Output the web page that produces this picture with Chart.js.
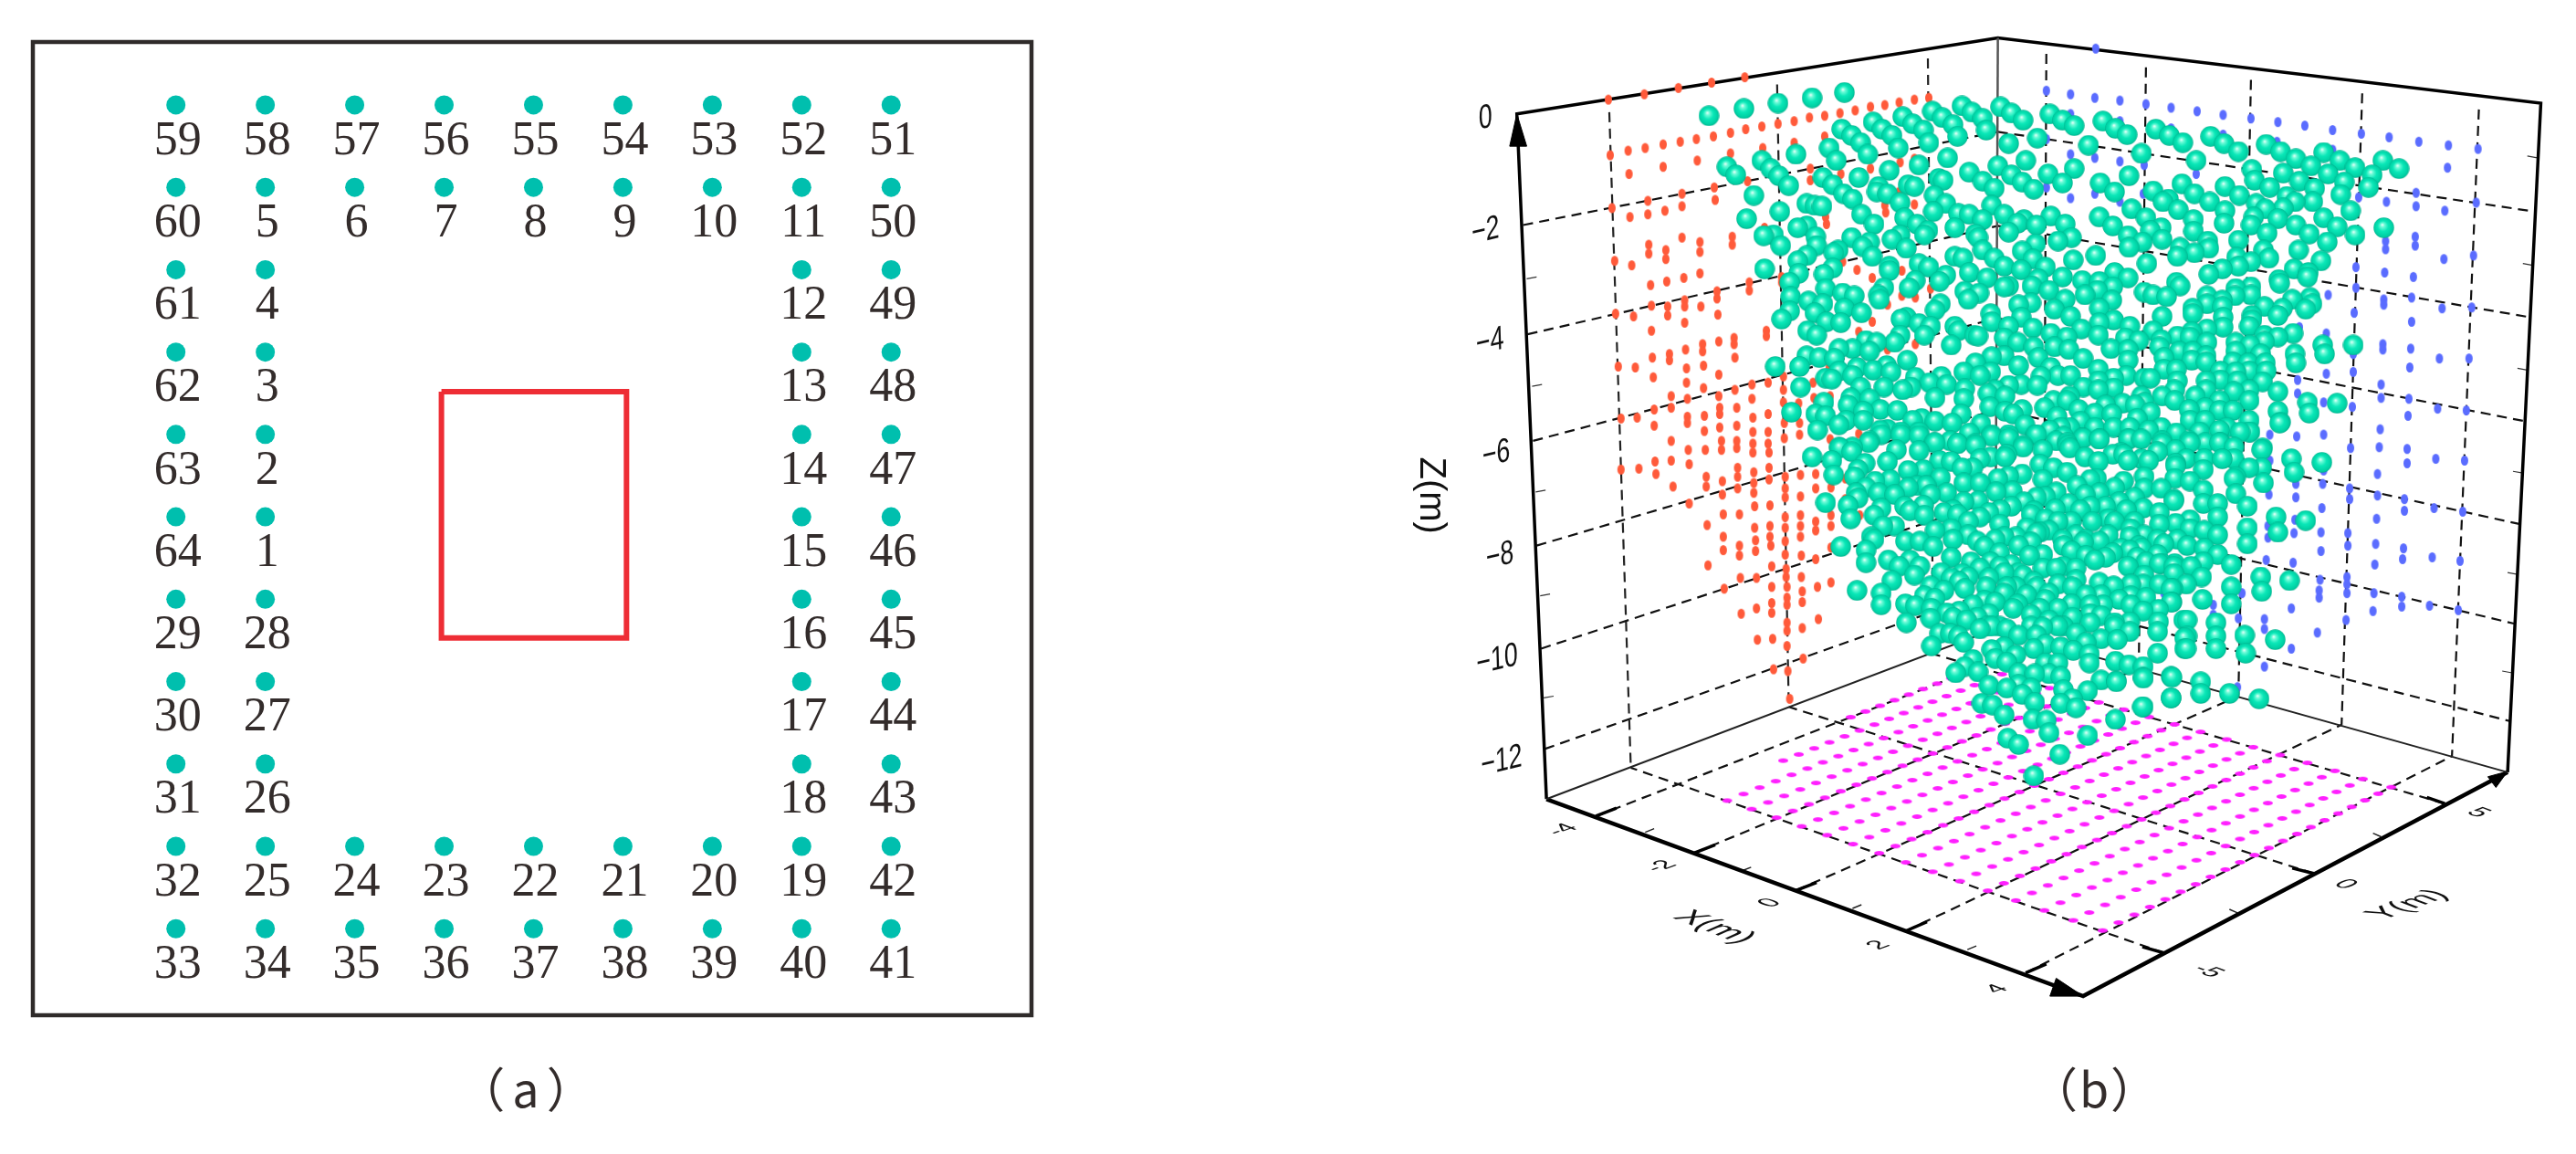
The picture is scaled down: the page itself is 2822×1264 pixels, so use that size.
<!DOCTYPE html>
<html>
<head>
<meta charset="utf-8">
<title>Sensor layout and 3D event cloud</title>
<script src="https://cdn.jsdelivr.net/npm/chart.js@4"></script>
<style>
  html, body { margin: 0; background: #fff; }
  canvas { position: absolute; top: 0; }
  #layoutChart { left: 0; }
  #cloudChart { left: 1400px; }
</style>
</head>
<body>
<canvas id="layoutChart" width="1400" height="1264"></canvas>
<canvas id="cloudChart" width="1422" height="1264"></canvas>
<script>
// panel (a): sensor numbers per row, 0 = no sensor in that column
const sensorRows = [
  [59, 58, 57, 56, 55, 54, 53, 52, 51],
  [60, 5, 6, 7, 8, 9, 10, 11, 50],
  [61, 4, 0, 0, 0, 0, 0, 12, 49],
  [62, 3, 0, 0, 0, 0, 0, 13, 48],
  [63, 2, 0, 0, 0, 0, 0, 14, 47],
  [64, 1, 0, 0, 0, 0, 0, 15, 46],
  [29, 28, 0, 0, 0, 0, 0, 16, 45],
  [30, 27, 0, 0, 0, 0, 0, 17, 44],
  [31, 26, 0, 0, 0, 0, 0, 18, 43],
  [32, 25, 24, 23, 22, 21, 20, 19, 42],
  [33, 34, 35, 36, 37, 38, 39, 40, 41],
]
const tunnelColumns = [3.97, 6.04]
const tunnelRows = [4.48, 7.47]

// panel (b): everything below is in the plane of the 3D view (view units)
const boxCorners = { A: [1654, 115], B: [2190, 30], C: [2795, 103], D: [1687, 880], E: [2285, 1100], F: [2758, 850], G: [2187, 690] }
const zLabels = ["0", "-2", "-4", "-6", "-8", "-10", "-12"]
const zLeftEdge = [[1661, 239], [1666, 361], [1672, 480], [1676, 597], [1681, 712], [1685, 824]]
const zBackEdge = [[2190, 135], [2190, 240], [2189, 343], [2189, 445], [2188, 546], [2188, 646]]
const zRightEdge = [[2788, 224], [2783, 342], [2777, 458], [2772, 573], [2765, 684], [2761, 793]]
const zLabelAt = [[1619, 120], [1619, 246], [1624, 370], [1631, 495], [1635, 609], [1632, 725], [1637, 838]]
const zMinorLeft = [[1665, 299], [1671, 419], [1675, 537], [1680, 653], [1684, 767]]
const zMinorRight = [[2791, 164], [2786, 284], [2780, 401], [2775, 516], [2769, 629], [2763, 739]]
const yWallTop = [[1757, 113], [1944, 82], [2112, 53]]
const yWallBottom = [[1781, 845], [1957, 777], [2118, 718]]
const xWallTop = [[2244, 48], [2355, 63], [2472, 77], [2596, 92], [2726, 110]]
const xWallBottom = [[2241, 705], [2347, 734], [2458, 765], [2573, 797], [2696, 832]]
const xLabels = ["-4", "-2", "0", "2", "4"]
const xAxisTicks = [[1742, 899], [1852, 940], [1965, 982], [2088, 1027], [2221, 1074]]
const xTickEnds = [[1765, 890], [1875, 931], [1988, 973], [2111, 1017], [2244, 1064]]
const xLabelAt = [[1705, 914], [1815, 955], [1936, 996], [2057, 1043], [2189, 1092]]
const xMinorTicks = [[1797, 917], [1905, 960], [2028, 1002], [2156, 1048]]
const yLabels = ["-5", "0", "5"]
const yAxisTicks = [[2376, 1052], [2542, 963], [2688, 885]]
const yTickEnds = [[2351, 1045], [2518, 957], [2668, 878]]
const yFloorEnds = [[1781, 845], [1957, 777], [2118, 718]]
const yLabelAt = [[2424, 1072], [2577, 975], [2725, 895]]
const yMinorTicks = [[2457, 1007], [2617, 922]]
const floorCorners = [[1943.3, 900.7], [2306.7, 1026.7], [2628.3, 866.7], [2275, 764]]

// floor projection of the events, X and Y in metres
const floorX = [-4, -3.5, -3, -2.5, -2, -1.5, -1, -0.5, 0, 0.5, 1, 1.5, 2, 2.5, 3, 3.5, 4]
const floorFirstY = [0.5, -2.5, -5, -5, -5, -5, -5, -5, -5, -5, -5, -5, -5, -5, -5, -5, -5]
const floorY = [-5, -4.5, -4, -3.5, -3, -2.5, -2, -1.5, -1, -0.5, 0, 0.5, 1, 1.5, 2, 2.5, 3, 3.5, 4, 4.5, 5]

const redPoints = [
  [1756,99],[1796,93],[1834,86],[1871,80],[1908,74],
  [1758,161],[1778,156],[1797,153],[1817,149],[1836,146],[1854,143],[1873,140],[1892,136],[1909,132],[1927,129],[1945,126],[1963,123],[1980,119],[1997,117],[2014,114],[2031,111],[2048,107],[2064,105],[2080,102],[2097,99],[2113,97],
  [1779,182],[1817,174],[1855,167],[1892,159],[1928,153],[1963,147],[1997,140],
  [2097,165],[2081,169],[2048,176],[2015,182],[1981,176],[1981,189],[1911,190],[1874,197],[1875,211],[1998,230],[1999,238],[2097,216],[2080,202],[2064,217],[2065,225],[1894,252],[1894,261],[1930,242],
  [2033,289],[2050,298],[2017,280],[2083,318],[2098,320],[2067,328],[2083,290],[2050,347],[2035,358],[2067,378],[2098,372],[2115,310],[1932,357],
  [1760,220],[1780,230],[1800,212],[1800,227],[1819,223],[1838,204],[1838,218],
  [1838,253],[1801,261],[1801,271],[1820,267],[1820,277],[1858,258],[1858,269],
  [1763,279],[1782,284],[1803,306],[1821,302],[1840,298],[1858,293],[1877,313],[1877,321],[1913,303],[1913,312],[1949,297],[1949,303],
  [1764,338],[1784,341],[1804,329],[1822,330],[1822,340],[1841,323],[1841,330],[1859,330],[1878,339],[1841,348],[1804,357],
  [1932,363],[1896,365],[1896,372],[1879,369],[1861,372],[1861,380],[1842,378],[1824,383],[1824,390],[1805,387],[1897,387],[1862,396],[1843,399],
  [1767,397],[1786,398],[1806,409],[1843,415],[1879,406],[1862,421],[1844,433],[1826,430],[1879,430],[1897,423],[1916,417],[1916,433],[1934,415],[1951,408],[1951,423],[1951,437],[1967,400],[1984,415],[2002,398],
  [1770,455],[1788,454],[1807,445],[1826,443],[1807,463],[1844,453],[1844,460],[1863,452],[1863,469],[1880,443],[1880,450],[1899,443],[1899,463],[1880,465],[1917,454],[1917,470],[1934,450],[1934,470],[1952,460],[1952,477],[1969,460],[1969,473],
  [1968,438],[1985,432],[2003,430],[2003,478],[2035,472],
  [1826,480],[1882,480],[1899,480],[1917,483],[1934,483],[1845,490],[1864,490],[1882,490],[1899,488],[1917,493],[1935,493],
  [1770,512],[1790,511],[1809,517],[1808,503],[1828,531],[1826,502],[1846,506],[1865,520],[1865,531],[1846,550],[1883,525],[1883,540],[1900,510],[1900,520],[1900,533],[1918,515],[1918,527],[1918,538],[1935,510],[1935,523],[1953,520],[1953,533],[1953,543],[1970,518],[1970,542],[1987,517],[1987,533],[2004,532],[2020,522],
  [1884,562],[1902,562],[1919,553],[1936,552],[1953,565],[1970,563],[1970,575],[1987,570],[2004,563],[2004,575],[2020,545],[2036,563],[1866,574],[1919,577],[1936,575],[1936,587],[1953,577],[1953,592],[1970,587],[1987,580],[1884,587],[1920,591],[1937,597],[1902,597],[1884,602],[1920,603],[1902,608],[1953,607],[1971,608],[1987,612],[2004,599],
  [1867,619],[1938,620],[1954,623],[1954,632],[1971,632],[1903,633],[1921,633],[1885,645],[1938,643],[1955,643],[1955,655],[1972,648],[1989,643],[2004,638],[1904,673],[1921,667],[1938,661],[1938,672],[1955,663],[1972,660],[1990,679],[1955,683],[1955,692],[1972,689],[1922,702],[1939,701],[1955,709],[1973,723],[1940,735],[1956,737],[1958,768],
]

const bluePoints = [
  [2299,42],
  [2244,89],[2271,93],[2298,97],[2326,100],[2355,104],[2383,108],[2412,112],[2441,116],[2472,120],[2502,124],[2532,128],[2563,133],[2595,137],[2626,141],[2659,146],[2692,150],[2725,154],
  [2271,115],[2326,123],[2383,131],[2441,138],[2501,146],[2563,155],[2691,175],
  [2244,143],[2271,160],[2298,164],[2326,168],[2353,172],[2411,182],[2656,203],[2623,213],[2656,218],[2723,214],[2688,223],[2244,197],[2271,209],[2298,204],[2326,213],[2352,204],[2592,208],
  [2622,257],[2622,266],[2655,252],[2655,262],[2687,277],[2720,273],[2621,292],[2653,297],[2589,286],[2620,322],[2620,328],[2651,320],[2685,332],[2718,331],[2589,309],[2558,317],[2651,347],[2587,337],[2556,360],[2526,353],
  [2619,372],[2619,378],[2650,377],[2682,388],[2715,388],[2586,383],[2649,398],[2556,405],[2524,412],[2617,417],[2586,403],[2524,427],[2553,437],[2617,432],[2648,433],[2680,444],[2712,446],[2585,442],[2647,452],[2616,467],[2493,473],[2523,475],[2553,473],
  [2583,488],[2615,487],[2646,489],[2646,505],[2678,500],[2710,502],[2493,502],[2553,513],[2613,517],[2552,528],[2582,533],[2582,545],[2522,528],[2522,543],[2492,540],[2613,541],[2643,545],[2643,558],[2676,555],[2708,559],[2551,555],[2612,567],[2491,575],[2521,568],[2520,583],[2550,582],[2580,583],[2580,597],[2611,595],[2642,600],[2641,612],[2674,610],[2705,614],[2491,588],[2550,603],[2610,618],[2489,613],[2519,616],
  [2549,635],[2579,632],[2579,640],[2579,650],[2609,650],[2640,654],[2640,665],[2671,664],[2703,669],[2548,647],[2548,655],[2517,667],[2608,670],[2487,679],[2487,690],[2578,680],[2546,694],[2458,678],[2430,663],[2430,674],[2517,712],[2487,732],[2457,755],[2404,637],[2375,650],[2462,650],
]

const greenPoints = [
  [1868,117],[1907,109],[1945,103],[1983,97],[2019,91],
  [2193,107],[2205,114],[2218,122],[2150,106],[2161,113],[2173,120],[2177,133],[2117,112],[2128,119],[2140,127],[2145,140],[2084,118],[2095,126],[2107,133],[2113,147],[2051,124],[2061,132],[2072,139],[2079,153],[2016,132],[2027,139],[2037,147],[2045,160],[2002,153],[2010,167],[1965,160],
  [1888,174],[1898,183],[1927,167],[1937,176],[1946,184],[1957,195],[1918,206],[1947,224],[1910,232],[1929,251],[1940,250],[1948,262],[1967,242],[1977,240],[1987,252],[1988,262],[1977,215],[1986,217],[1994,218],[1995,186],[2006,194],[2018,204],[2028,210],[2035,186],[2069,178],[2102,172],[2134,164],[2202,148],[2234,142],[2248,115],[2262,122],[2275,128],[2221,167],[2190,173],[2158,180],[2173,190],[2186,198],[2205,183],[2217,191],[2230,199],[2246,182],[2262,192],[2275,176],
  [2057,196],[2055,202],[2067,204],[2081,214],[2090,194],[2097,196],[2124,187],[2129,189],[2119,206],[2132,215],[2118,224],[2146,226],[2158,227],[2142,242],[2173,233],[2183,217],[2197,227],[2212,237],[2219,233],[2233,239],[2249,229],[2265,238],[2202,247],[2165,249],[2168,253],[2173,267],[2186,276],[2197,285],[2086,231],[2100,238],[2112,245],[2108,250],[2038,227],[2052,238],[2027,253],[2047,258],[2039,263],[2050,274],[2072,255],[2081,250],[2088,265],[2007,270],[2012,267],[1977,273],[1967,279],[2006,287],[1968,293],[1996,294],[1958,303],[1930,288],[1998,310],[1959,319],[2017,315],[2030,318],[1979,324],[1995,327],[1958,335],[1986,337],[1949,344],[2019,332],[2038,337],[1999,347],[2015,348],[1978,357],[1988,362],
  [2069,285],[2069,290],[2063,309],[2058,322],[2057,317],[2102,282],[2113,286],[2098,301],[2091,309],[2126,327],[2120,334],[2132,295],[2125,302],[2142,274],[2151,276],[2158,292],[2178,298],[2153,313],[2169,315],[2157,322],[2197,308],[2202,307],[2216,289],[2217,268],[2232,260],[2229,277],[2243,286],[2235,299],[2257,257],[2228,307],[2247,312],[2262,297],[2265,322],[2253,333],[2213,328],[2227,326],[2271,341],[2274,278],[2272,253],
  [2182,338],[2183,347],[2202,352],[2216,342],[2229,354],[2249,360],[2267,364],[2142,352],[2146,357],[2164,362],[2168,363],[2138,373],[2082,344],[2088,342],[2102,349],[2115,352],[2108,362],[2081,362],[2075,370],[2197,365],[2212,370],[2230,375],[2235,387],[2253,375],[2269,378],[2028,377],[2047,380],[2055,370],[2043,368],[2013,377],[2008,388],[1991,387],[1977,385],[1969,397],[1942,397],[2013,402],[2033,398],[2028,407],[2051,401],[2066,396],[2071,403],[2089,390],[1998,410],[2005,411],[2183,386],[2197,385],[2213,396],[2165,393],[2152,403],[2170,407],[2182,403],[2249,398],[2257,407],[2271,407],
  [2098,409],[2114,415],[2127,408],[2133,417],[2153,422],[2152,433],[2120,432],[2084,423],[2093,420],[2063,420],[2037,420],[2026,432],[2047,433],[1970,420],[1996,437],[1960,448],[1987,450],[1998,452],[1989,468],[2023,440],[2059,445],[2040,447],[2078,446],[2021,457],[2013,462],[2040,457],[2095,457],[2105,455],[2120,458],[2139,460],[2149,450],[2171,461],[2158,471],[2179,427],[2198,430],[2187,423],[2202,418],[2216,417],[2234,418],[2238,408],[2181,442],[2198,447],[2207,450],[2217,445],[2220,462],[2242,443],[2252,435],[2267,435],[2256,453],[2248,468],[2270,465],[2202,473],[2183,473],[2232,473],[2059,468],[2047,480],[2082,470],[2102,470],[2119,482],[2145,483],[2165,483],[2218,485],[2267,482],[2067,467],[2028,487],[2013,487],[2137,480],
  [2307,123],[2321,131],[2334,138],[2366,132],[2381,139],[2396,147],[2427,140],[2442,148],[2458,157],[2489,149],[2505,157],[2522,165],[2553,158],[2571,167],[2588,175],[2619,167],[2637,176],[2291,150],[2350,159],[2411,167],[2473,177],[2476,189],[2508,181],[2539,173],[2558,182],[2576,191],[2607,183],[2603,197],[2572,205],[2526,190],[2543,198],[2493,197],[2541,213],[2512,207],[2521,213],[2508,220],[2502,232],
  [2336,184],[2304,192],[2320,202],[2363,201],[2395,193],[2409,204],[2443,196],[2459,206],[2426,213],[2478,215],[2488,221],[2475,230],[2472,239],[2380,210],[2374,213],[2391,222],[2339,221],[2355,231],[2443,223],[2442,237],[2408,233],[2408,246],[2303,230],[2318,240],[2335,251],[2336,264],[2351,258],[2372,242],[2373,255],[2360,245],
  [2522,239],[2553,231],[2568,241],[2583,223],[2537,249],[2490,248],[2458,256],[2620,242],[2588,250],[2557,258],[2525,267],[2486,267],[2492,276],[2550,279],[2520,288],[2536,292],[2535,297],[2503,300],[2504,304],[2456,275],[2458,285],[2472,280],[2440,288],[2425,294],[2393,264],[2390,274],[2409,270],[2424,257],[2425,265],[2356,282],[2299,273],[2320,292],[2335,298],[2284,301],[2303,302],[2318,308],[2301,312],[2287,317],[2317,323],[2303,332],[2353,314],[2363,317],[2378,319],[2389,303],[2393,307],[2373,341],[2319,345],[2337,352],[2303,348],[2283,355],[2302,362],[2285,388],[2316,377],[2332,365],[2347,368],[2335,378],[2335,390],[2363,357],[2372,367],[2370,375],[2390,363],[2392,380],
  [2407,332],[2407,338],[2423,318],[2423,327],[2440,323],[2440,330],[2455,310],[2454,318],[2472,308],[2472,317],[2487,330],[2507,332],[2502,340],[2518,322],[2538,320],[2540,327],[2533,333],[2473,340],[2473,345],[2470,352],[2441,342],[2441,353],[2423,355],[2406,358],[2404,364],[2423,370],[2487,362],[2487,369],[2502,364],[2519,360],[2471,373],[2455,370],[2455,380],[2483,383],[2407,380],[2406,390],[2422,385],[2422,392],[2375,387],[2375,400],[2389,400],[2452,392],[2469,393],[2470,402],[2488,393],[2489,402],[2521,383],[2522,393],[2552,373],[2554,383],[2586,373],
  [2455,403],[2457,413],[2438,402],[2438,412],[2422,413],[2422,423],[2485,414],[2470,423],[2470,435],[2502,425],[2453,425],[2390,413],[2387,423],[2387,435],[2373,430],[2353,410],[2360,410],[2333,407],[2302,400],[2319,410],[2319,421],[2302,413],[2302,423],[2285,420],[2329,438],[2353,437],[2360,448],[2343,440],[2317,450],[2298,449],[2282,458],[2298,465],[2319,465],[2337,465],[2284,477],[2303,478],[2335,478],[2358,468],[2372,465],[2389,471],[2403,445],[2404,457],[2421,443],[2421,457],[2437,435],[2437,446],[2452,446],[2437,468],[2470,457],[2471,470],[2502,447],[2505,459],[2535,437],[2537,449],[2568,438],[2403,480],[2421,482],[2438,482],[2373,480],[2485,488],[2453,487],[2268,485],
  [1983,498],[2005,502],[2014,488],[2027,492],[2046,482],[2042,505],[2007,518],[2034,512],[2077,490],[2067,503],[2090,513],[2107,512],[2102,491],[2120,482],[2125,502],[2138,503],[2145,483],[2165,485],[2182,498],[2198,498],[2183,475],[2162,510],[2126,521],[2218,487],[2237,506],[2252,510],[2202,519],[2217,517],[2240,523],[2190,522],[2152,527],[2170,527],[2188,537],[2206,536],
  [2053,525],[2070,523],[2090,532],[2043,532],[2032,538],[2034,544],[2057,538],[1998,549],[2023,552],[2026,567],[2052,563],[2060,555],[2086,553],[2092,558],[2107,552],[2115,540],[2108,563],[2133,538],[2152,548],[2168,547],[2145,562],[2140,557],[2192,557],[2205,553],[2219,548],[2227,562],[2255,537],[2254,556],[2269,550],[2267,515],[2287,498],[2270,488],[2285,477],[2302,503],[2303,478],[2336,478],[2335,502],[2327,493],[2358,502],[2368,492],[2388,490],[2388,505],
  [2300,522],[2293,523],[2320,532],[2330,525],[2287,540],[2303,538],[2278,530],[2325,548],[2310,553],[2342,543],[2353,520],[2353,533],[2372,533],[2352,555],[2387,522],[2386,545],[2370,560],[2388,572],[2370,573],[2342,570],[2338,578],[2337,587],[2353,585],[2368,590],[2368,607],[2355,615],[2387,617],[2386,628],[2373,617],[2337,602],[2335,620],[2352,640],[2338,640],[2385,645],[2384,660],[2338,653],[2338,663],[2352,670],[2369,668],[2369,682],[2368,693],[2337,682],[2337,693],[2320,683],[2323,702],[2397,680],[2398,700],[2398,712],[2368,717],
  [2319,642],[2303,638],[2305,652],[2288,652],[2307,663],[2305,675],[2293,673],[2318,605],[2320,570],[2288,608],[2303,592],[2285,593],[2272,603],[2288,590],[2295,570],[2272,570],[2262,590],[2237,582],[2222,577],[2210,587],[2227,593],[2192,573],[2170,565],[2157,570],[2138,578],[2120,580],[2087,592],[2157,585],[2175,598],[2187,590],[2192,605],[2240,607],[2225,608],[2205,618],[2192,620],[2182,615],[2240,622],[2255,622],[2277,635],[2257,640],[2230,637],[2222,652],[2210,643],[2197,650],[2180,633],[2157,632],[2150,628],[2138,610],[2160,615],[2118,598],[2103,592],[2075,575],[2062,575],[2049,587],[2052,590],[2043,602],[2043,616],[2015,598],[2068,613],[2080,620],[2092,613],[2103,620],[2097,630],[2127,627],[2138,633],[2115,642],[2108,653],[2120,656],[2153,645],[2072,636],[2033,647],[2060,650],[2060,663],[2087,662],[2098,664],[2116,667],[2115,678],[2133,672],[2088,683],[2155,680],[2162,663],[2175,658],[2180,673],[2170,690],[2178,687],[2192,687],[2213,697],[2212,662],[2227,674],[2240,688],[2243,657],[2257,667],[2272,662],[2273,677],[2263,687],[2277,695],
  [2230,712],[2243,707],[2260,710],[2274,714],[2288,705],[2292,718],[2292,728],[2305,701],[2125,695],[2137,695],[2146,698],[2152,705],[2116,709],[2183,713],[2197,710],[2210,719],[2187,723],[2200,727],[2162,724],[2153,732],[2143,739],[2168,738],[2243,728],[2257,728],[2247,740],[2260,743],[2213,739],[2231,740],[2321,726],[2336,730],[2352,732],[2352,744],[2384,744],[2383,767],[2305,747],[2322,748],[2290,759],[2263,758],[2273,768],[2260,773],[2277,778],[2180,753],[2200,756],[2213,752],[2227,756],[2217,763],[2231,772],[2172,773],[2184,775],[2197,786],[2229,791],[2244,792],[2247,806],[2321,791],[2352,777],[2290,809],[2201,812],[2213,819],[2259,830],[2230,854],
  [2484,490],[2517,500],[2551,504],[2484,510],[2520,515],[2486,527],[2470,470],[2504,460],[2453,500],[2453,522],[2455,539],[2468,553],[2468,577],[2468,595],[2500,565],[2502,582],[2533,569],[2435,565],[2435,585],[2435,607],[2450,618],[2450,643],[2450,662],[2419,615],[2417,632],[2418,657],[2483,632],[2484,648],[2515,636],[2401,597],[2386,547],[2404,568],[2404,578],[2419,550],[2419,535],[2435,550],[2404,525],[2419,512],[2437,482],[2404,482],[2388,508],[2401,680],[2433,683],[2401,698],[2400,712],[2433,698],[2433,712],[2465,697],[2466,717],[2499,702],[2383,645],[2383,660],[2386,620],[2383,743],[2383,767],[2416,749],[2416,762],[2448,762],[2481,768],[2351,777],[2322,749],[2352,745],
  [2060,473],[2082,473],[2102,474],[2202,477],[2233,473],[2263,475],[2318,495],[2350,500],[2373,483],
  [2193,557],[2180,560],[2243,542],[2233,543],[2230,558],[2243,567],[2257,570],[2282,557],[2293,553],[2313,567],[2333,557],
  [2140,590],[2167,592],[2197,587],[2213,597],[2233,583],[2247,580],[2263,597],[2277,585],[2313,585],[2327,600],[2347,597],
  [2170,622],[2213,627],[2197,627],[2218,630],[2263,620],[2277,622],[2298,613],[2310,610],[2353,630],[2370,617],
  [2130,647],[2147,637],[2177,643],[2200,643],[2233,643],[2247,650],[2293,663],[2273,643],[2325,657],[2207,667],[2187,660],[2147,670],[2167,677],[2237,667],
  [2140,677],[2183,687],[2200,690],[2227,687],[2247,680],[2257,687],[2233,697],[2320,687],[2293,683],
  [2270,430],[2280,445],[2310,440],[2345,455],[2350,430],[2410,430],[2415,470],[2445,465],[2460,470],[2330,495],[2350,478],[2400,500],[2420,500],[2440,500],[2455,520],[2470,510],[2420,580],[2390,590],[2375,595],[2350,600],[2405,620],[2420,600],[2370,640],[2355,655],[2400,640],[2345,610],[2240,490],[2255,480],[2260,465],[2200,495],[2170,500],[2150,510],[2100,530],[2075,540],[2110,530],[2130,560],[2030,520],
]

const ink = "#332c2b"

function toPoints(list) {
  return list.map((p) => ({ x: p[0], y: p[1] }))
}

// several separate segments in one dataset, a null point breaks the line
function segments(starts, ends) {
  const out = []
  starts.forEach((s, i) => {
    out.push({ x: s[0], y: s[1] }, { x: ends[i][0], y: ends[i][1] }, { x: null, y: null })
  })
  return out
}

function shortTicks(list, dx, dy) {
  return segments(list, list.map((p) => [p[0] + dx, p[1] + dy]))
}

function makeDot(w, h, color) {
  const c = document.createElement("canvas")
  c.width = w + 2
  c.height = h + 2
  const g = c.getContext("2d")
  g.fillStyle = color
  g.beginPath()
  g.ellipse(c.width / 2, c.height / 2, w / 2, h / 2, 0, 0, Math.PI * 2)
  g.fill()
  return c
}

function makeBall(size) {
  const c = document.createElement("canvas")
  c.width = size
  c.height = size
  const g = c.getContext("2d")
  const r = size / 2
  const fill = g.createRadialGradient(r * 0.85, r * 0.7, 0, r, r, r)
  fill.addColorStop(0, "#f4fffc")
  fill.addColorStop(0.2, "#6efbd8")
  fill.addColorStop(0.5, "#0ae8b8")
  fill.addColorStop(0.88, "#00cfa3")
  fill.addColorStop(1, "#00a886")
  g.fillStyle = fill
  g.beginPath()
  g.arc(r, r, r - 0.3, 0, Math.PI * 2)
  g.fill()
  return c
}

// square to quad mapping for the floor plane
function makeFloorProjection(q) {
  const [x0, y0] = q[0], [x1, y1] = q[1], [x2, y2] = q[2], [x3, y3] = q[3]
  const sx = x0 - x1 + x2 - x3, sy = y0 - y1 + y2 - y3
  const dx1 = x1 - x2, dx2 = x3 - x2, dy1 = y1 - y2, dy2 = y3 - y2
  const den = dx1 * dy2 - dx2 * dy1
  const g = (sx * dy2 - dx2 * sy) / den
  const h = (dx1 * sy - sx * dy1) / den
  const a = x1 - x0 + g * x1, b = x3 - x0 + h * x3
  const d = y1 - y0 + g * y1, e = y3 - y0 + h * y3
  return (X, Y) => {
    const s = (X + 2) / 6, t = (Y + 5) / 10
    const w = g * s + h * t + 1
    return { x: (a * s + b * t + x0) / w, y: (d * s + e * t + y0) / w }
  }
}

function floorPoints() {
  const project = makeFloorProjection(floorCorners)
  const out = []
  floorX.forEach((X, i) => {
    floorY.forEach((Y) => {
      if (Y >= floorFirstY[i]) out.push(project(X, Y))
    })
  })
  return out
}

function drawCaption(ctx, text, x, y, spacing) {
  ctx.save()
  ctx.font = "52px 'Noto Sans CJK SC'"
  ctx.letterSpacing = spacing
  ctx.fillStyle = ink
  ctx.textAlign = "center"
  ctx.textBaseline = "middle"
  ctx.fillText(text, x, y)
  ctx.restore()
}

//panel a
function layoutChart(canvasId) {
  const points = []
  sensorRows.forEach((row, r) => {
    row.forEach((n, c) => {
      if (n) points.push({ x: c + 1, y: r + 1, n: n })
    })
  })
  const [c0, c1] = tunnelColumns
  const [r0, r1] = tunnelRows
  const sensorLabels = {
    id: "sensorLabels",
    afterDatasetsDraw(chart) {
      const { ctx, chartArea: a, scales } = chart
      ctx.save()
      ctx.strokeStyle = "#2f2b2a"
      ctx.lineWidth = 4.5
      ctx.strokeRect(a.left, a.top, a.width, a.height)
      ctx.fillStyle = ink
      ctx.font = "52px 'Liberation Serif'"
      ctx.textAlign = "center"
      ctx.textBaseline = "middle"
      points.forEach((p) => {
        ctx.fillText(String(p.n), scales.x.getPixelForValue(p.x) + 2, scales.y.getPixelForValue(p.y) + 40)
      })
      ctx.restore()
      drawCaption(ctx, "（a）", 580, 1193, "8px")
    },
  }
  new Chart(document.getElementById(canvasId), {
    type: "scatter",
    data: {
      datasets: [
        {
          label: "sensors",
          data: points,
          pointRadius: 10.5,
          backgroundColor: "#00bfae",
          borderWidth: 0,
        },
        {
          label: "tunnel",
          data: [
            { x: c0, y: r0 }, { x: c1, y: r0 }, { x: c1, y: r1 }, { x: c0, y: r1 }, { x: c0, y: r0 },
          ],
          showLine: true,
          pointRadius: 0,
          borderColor: "#ee2d35",
          borderWidth: 6,
          borderJoinStyle: "miter",
        },
      ],
    },
    options: {
      responsive: false,
      animation: false,
      events: [],
      layout: { padding: { left: 36, top: 46, right: 270, bottom: 152 } },
      plugins: { legend: { display: false }, tooltip: { enabled: false } },
      scales: {
        x: { type: "linear", display: false, min: -0.6, max: 10.57 },
        y: { type: "linear", display: false, reverse: true, min: 0.236, max: 12.05 },
      },
    },
    plugins: [sensorLabels],
  })
}

function lineSet(data, color, width, dash, order) {
  return {
    data: data,
    showLine: true,
    pointRadius: 0,
    borderColor: color,
    backgroundColor: color,
    borderWidth: width,
    borderDash: dash || [],
    order: order,
    clip: false,
  }
}

function cornerLine(names) {
  return names.map((n) => ({ x: boxCorners[n][0], y: boxCorners[n][1] }))
}

//panel b
function cloudChart(canvasId) {
  const dash = [11, 7]
  const ballStyle = makeBall(23)
  const greenSorted = greenPoints.slice().sort((a, b) => a[1] - b[1])

  const arrowZ = [[1654, 115], [1646, 151], [1665, 151], [1654, 115]]
  const arrowX = [[2285, 1100], [2255, 1080], [2248, 1100], [2285, 1100]]
  const arrowY = [[2758, 849], [2736, 855], [2745, 867], [2758, 849]]

  const axisText = {
    id: "axisText",
    afterDatasetsDraw(chart) {
      const { ctx, scales } = chart
      const px = (p) => [scales.x.getPixelForValue(p[0]), scales.y.getPixelForValue(p[1])]
      const put = (text, at, m, font) => {
        const [x, y] = px(at)
        ctx.save()
        ctx.transform(m[0], m[1], m[2], m[3], x, y)
        ctx.font = font
        ctx.fillStyle = "#111"
        ctx.textAlign = "center"
        ctx.textBaseline = "middle"
        ctx.fillText(text, 0, 0)
        ctx.restore()
      }
      const zSkew = [0.72, -0.17, 0.03, 1]
      zLabels.forEach((t, i) => put(t.replace("-", "\u2212"), zLabelAt[i], zSkew, "37px 'Liberation Sans'"))
      const floorA = [0.72, -0.26, 0.68, 0.26]
      const floorB = [0.72, 0.28, -0.68, 0.3]
      xLabels.forEach((t, i) => put(t, xLabelAt[i], floorA, "36px 'Liberation Sans'"))
      yLabels.forEach((t, i) => put(t, yLabelAt[i], floorB, "36px 'Liberation Sans'"))
      put("X(m)", [1874, 1023], floorB, "48px 'Liberation Sans'")
      put("Y(m)", [2647, 998], floorA, "48px 'Liberation Sans'")
      put("Z(m)", [1558, 541], [0, 1, -1, 0], "40px 'Liberation Sans'")
      drawCaption(ctx, "（b）", 2295 - 1400, 1193, "2px")
    },
  }

  new Chart(document.getElementById(canvasId), {
    type: "scatter",
    data: {
      datasets: [
        {
          label: "events",
          data: toPoints(greenSorted),
          pointStyle: ballStyle,
          pointRadius: 11,
          order: 1,
        },
        {
          label: "floor",
          data: floorPoints(),
          pointStyle: makeDot(11, 5, "#ff1fff"),
          pointRadius: 5,
          order: 2,
        },
        {
          label: "x wall",
          data: toPoints(redPoints),
          pointStyle: makeDot(8, 11, "#ff5a3a"),
          pointRadius: 5,
          order: 2,
        },
        {
          label: "y wall",
          data: toPoints(bluePoints),
          pointStyle: makeDot(8, 11, "#5a6cff"),
          pointRadius: 5,
          order: 2,
        },
        lineSet(segments(zLeftEdge, zBackEdge), "#111", 2.2, dash, 4),
        lineSet(segments(zBackEdge, zRightEdge), "#111", 2.2, dash, 4),
        lineSet(segments(yWallTop, yWallBottom), "#222", 2.2, dash, 4),
        lineSet(segments(xWallTop, xWallBottom), "#111", 2.2, dash, 4),
        lineSet(segments(xAxisTicks, xWallBottom), "#111", 2.2, dash, 4),
        lineSet(segments(yAxisTicks, yFloorEnds), "#111", 2.2, dash, 4),
        lineSet(cornerLine(["B", "G"]), "#555", 2.5, null, 3),
        lineSet(cornerLine(["D", "G", "F"]), "#222", 2, null, 3),
        lineSet(cornerLine(["D", "A", "B", "C", "F"]), "#000", 3.5, null, 3),
        lineSet(cornerLine(["D", "E", "F"]), "#000", 4.5, null, 3),
        lineSet(segments(xAxisTicks, xTickEnds), "#000", 3.5, null, 3),
        lineSet(segments(yAxisTicks, yTickEnds), "#000", 3.5, null, 3),
        lineSet(shortTicks(xMinorTicks, 10, -4), "#222", 1.5, null, 3),
        lineSet(shortTicks(yMinorTicks, -9, -4), "#222", 1.5, null, 3),
        lineSet(shortTicks(zMinorLeft, 11, -2), "#333", 1.2, null, 3),
        lineSet(shortTicks(zMinorRight, -11, -2), "#333", 1.2, null, 3),
        Object.assign(lineSet(toPoints(arrowZ), "#000", 1, null, 3), { fill: "shape" }),
        Object.assign(lineSet(toPoints(arrowX), "#000", 1, null, 3), { fill: "shape" }),
        Object.assign(lineSet(toPoints(arrowY), "#000", 1, null, 3), { fill: "shape" }),
      ],
    },
    options: {
      responsive: false,
      animation: false,
      events: [],
      layout: { padding: 0 },
      plugins: { legend: { display: false }, tooltip: { enabled: false } },
      scales: {
        x: { type: "linear", display: false, min: 1400, max: 2822 },
        y: { type: "linear", display: false, reverse: true, min: 0, max: 1264 },
      },
    },
    plugins: [axisText],
  })
}

layoutChart("layoutChart")
cloudChart("cloudChart")
</script>
</body>
</html>
